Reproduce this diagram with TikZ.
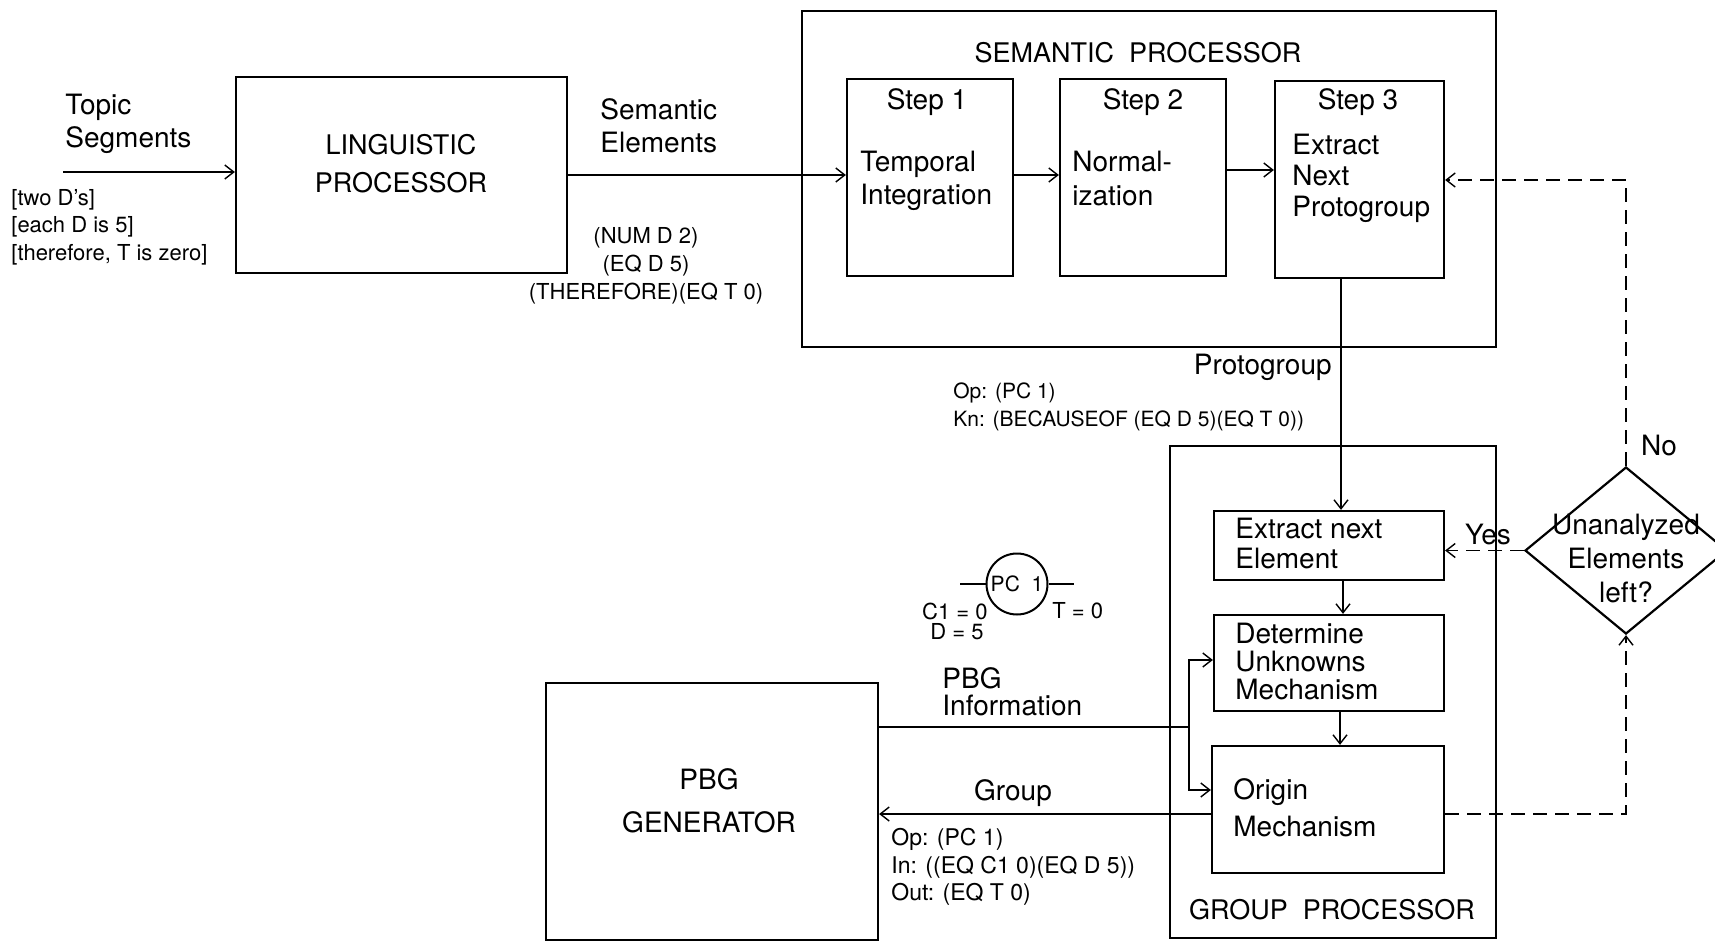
\documentclass[tikz,border=0pt]{standalone}
\usepackage{fontspec}
\setmainfont{TeX Gyre Heros}
\usetikzlibrary{arrows.meta,shapes.geometric,fit}
\newcommand\setfs[2]{\fontsize{#1}{#2}\selectfont}
\begin{document}
\begin{tikzpicture}[x=0.5pt,y=-0.5pt,
  box/.style={draw,line width=1.1pt,inner sep=0pt},
  lbl/.style={inner sep=0pt,align=left},
  conn/.style={line width=0.9pt},
  arr/.style={conn,-{Straight Barb[length=4.5pt,width=7pt,line width=0.7pt]}},
  dsh/.style={dash pattern=on 7pt off 4pt}]
\useasboundingbox (0,0) rectangle (1715,942);

% boxes
\node[box,fit={(236,77) (567,273)}] (ling) {};
\node[box,fit={(802,11) (1496,347)}] (sem) {};
\node[box,fit={(847,79) (1013,276)}] (s1) {};
\node[box,fit={(1060,79) (1226,276)}] (s2) {};
\node[box,fit={(1275,81) (1444,278)}] (s3) {};
\node[box,fit={(1170,446) (1496,938)}] (grp) {};
\node[box,fit={(1214,511) (1444,580)}] (ext) {};
\node[box,fit={(1214,615) (1444,711)}] (det) {};
\node[box,fit={(1212,746) (1444,873)}] (ori) {};
\node[box,fit={(546,683) (878,940)}] (pbg) {};
\node[draw,line width=1.1pt,diamond,shape aspect=1.21,minimum width=101pt,minimum height=83.5pt,inner sep=0pt] (dia) at (1626,550.5) {};
\node[draw,line width=1pt,circle,minimum size=30.5pt,inner sep=0pt,font=\setfs{10.5}{12}] (pc) at (1017,584) {PC\ \ 1};

% texts
\node[lbl,anchor=west,font=\setfs{14}{16.5}] (tTopic) at (65,124) {Topic\\Segments};
\node[lbl,anchor=west,font=\setfs{11}{13.75}] (tBr) at (11,227) {{[}two D's{]}\\{[}each D is 5{]}\\{[}therefore, T is zero{]}};
\node[lbl,align=center,font=\setfs{13.5}{19}] (tLing) at (401,164) {LINGUISTIC\\PROCESSOR};
\node[lbl,anchor=west,font=\setfs{14}{16.5}] (tSemEl) at (600,126) {Semantic\\Elements};
\node[lbl,align=center,font=\setfs{11}{14}] (tNum) at (646,266) {(NUM D 2)\\(EQ D 5)\\(THEREFORE)(EQ T 0)};
\node[lbl,font=\setfs{13.5}{16}] (tSem) at (1138,53) {SEMANTIC\ \ PROCESSOR};
\node[lbl,font=\setfs{14}{16}] (tS1) at (927,102) {Step 1};
\node[lbl,anchor=west,font=\setfs{14}{16.5}] (tS1b) at (860,180.5) {Temporal\\Integration};
\node[lbl,font=\setfs{14}{16}] (tS2) at (1143,102) {Step 2};
\node[lbl,anchor=west,font=\setfs{14}{17}] (tS2b) at (1072,179) {Normal-\\ization};
\node[lbl,font=\setfs{14}{16}] (tS3) at (1358,102) {Step 3};
\node[lbl,anchor=west,font=\setfs{14}{15.5}] (tS3b) at (1292,178) {Extract\\Next\\Protogroup};
\node[lbl,anchor=east,font=\setfs{14}{16}] (tProto) at (1332,367) {Protogroup};
\node[lbl,anchor=west,font=\setfs{10.5}{14}] (tOpKn) at (953,407) {Op: (PC 1)\\Kn: (BECAUSEOF (EQ D 5)(EQ T 0))};
\node[lbl,anchor=west,font=\setfs{14}{15}] (tExt) at (1235,543) {Extract next\\Element};
\node[lbl,anchor=west,font=\setfs{14}{14}] (tDet) at (1235,661) {Determine\\Unknowns\\Mechanism};
\node[lbl,anchor=west,font=\setfs{14}{18.5}] (tOri) at (1233,808) {Origin\\Mechanism};
\node[lbl,font=\setfs{13.5}{16}] (tGrp) at (1332,910) {GROUP\ \ PROCESSOR};
\node[lbl,align=center,font=\setfs{14}{17}] (tDia) at (1626,558) {Unanalyzed\\Elements\\left?};
\node[lbl,font=\setfs{14}{16}] (tYes) at (1488,535) {Yes};
\node[lbl,font=\setfs{14}{16}] (tNo) at (1659,446) {No};
\node[lbl,anchor=east,font=\setfs{11}{13}] (tC1) at (988,611) {C1 = 0};
\node[lbl,anchor=east,font=\setfs{11}{13}] (tD5) at (984,632) {D = 5};
\node[lbl,anchor=west,font=\setfs{11}{13}] (tT0) at (1052,611) {T = 0};
\node[lbl,anchor=west,font=\setfs{14}{13.5}] (tPbgI) at (942,692) {PBG\\Information};
\node[lbl,align=center,font=\setfs{14}{21.5}] (tPbg) at (709,801) {PBG\\GENERATOR};
\node[lbl,font=\setfs{14}{16}] (tGroup) at (1013,793) {Group};
\node[lbl,anchor=west,font=\setfs{11.5}{13.75}] (tOpIn) at (891,867) {Op: (PC 1)\\In: ((EQ C1 0)(EQ D 5))\\Out: (EQ T 0)};

% helper coordinates
\coordinate (tsIn) at (63,172);
\coordinate (y175) at (0,175);
\coordinate (y170) at (0,170);
\coordinate (x1341) at (1341,0);
\coordinate (x1343) at (1343,0);
\coordinate (x1340) at (1340,0);
\coordinate (y180) at (0,180);
\coordinate (jn) at (1189,727);
\coordinate (y660) at (0,660);
\coordinate (y790) at (0,790);
\coordinate (y814) at (0,814);
\coordinate (pcL) at (960,584);
\coordinate (pcR) at (1074,584);

% connectors
\draw[arr] (tsIn) -- (ling.west |- tsIn);
\draw[arr] (ling.east |- y175) -- (s1.west |- y175);
\draw[arr] (s1.east |- y175) -- (s2.west |- y175);
\draw[arr] (s2.east |- y170) -- (s3.west |- y170);
\draw[arr] (s3.south -| x1341) -- (ext.north -| x1341);
\draw[arr] (ext.south -| x1343) -- (det.north -| x1343);
\draw[arr] (det.south -| x1340) -- (ori.north -| x1340);
\draw[conn] (pbg.east |- jn) -- (jn);
\draw[arr] (jn) |- (det.west |- y660);
\draw[arr] (jn) |- (ori.west |- y790);
\draw[arr] (ori.west |- y814) -- (pbg.east |- y814);
\draw[arr,dsh] (ori.east |- y814) -| (dia.south);
\draw[arr,dsh] (dia.north) |- (s3.east |- y180);
\draw[arr,dsh] (dia.west) -- (ext.east |- dia.west);
\draw[conn] (pcL) -- (pc.west);
\draw[conn] (pc.east) -- (pcR);
\end{tikzpicture}
\end{document}
